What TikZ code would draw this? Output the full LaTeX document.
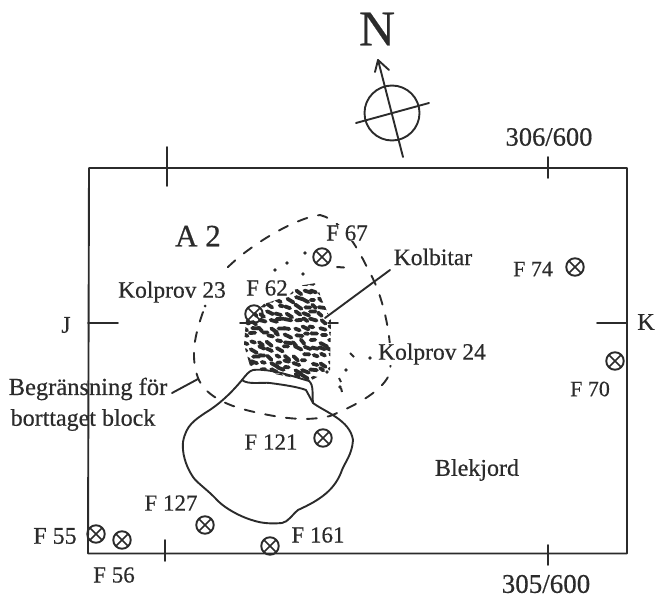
\documentclass[tikz,border=0pt]{standalone}
\usepackage{fontspec}
\setmainfont[RawFeature={embolden=0.5}]{Liberation Serif}
\definecolor{ink}{gray}{0.17}
\newcommand{\fsz}[1]{\fontsize{#1}{#1}\selectfont}
\tikzset{
  lab/.style={text=ink,font=\fsz{23},inner sep=0pt,anchor=center},
  line/.style={draw=ink,line width=1.9pt,line cap=round,line join=round},
  bound/.style={draw=ink,line width=1.9pt,dash pattern=on 10pt off 11pt,line cap=round},
  hatchmark/.style={draw=ink,line width=3.8pt,line cap=round},
  sampx/.style={circle,draw=ink,line width=1.9pt,minimum size=17.5pt,inner sep=0pt,
    path picture={\draw[ink,line width=1.6pt]
      (path picture bounding box.north west)--(path picture bounding box.south east)
      (path picture bounding box.north east)--(path picture bounding box.south west);}}
}
\begin{document}
\begin{tikzpicture}[x=1pt,y=-1pt]
\useasboundingbox (0,0) rectangle (660,599);
% frame
\draw[line] (89,168) -- (627,168) -- (627,553.5) -- (88,553.5) -- cycle;
\draw[line] (167,147) -- (167,186);
\draw[line] (548,157) -- (548,178);
\draw[line] (165,540) -- (165,561);
\draw[line] (548,545) -- (548,565);
\draw[line] (88,323) -- (118,323);
\draw[line] (597,323) -- (627,323);
\draw[line] (240,323) -- (255,323);
\draw[line] (328,323) -- (338,323);
% north sign
\node[lab,font=\fsz{50}] (north) at (377,29) {N};
\coordinate (ntip) at (378,60);
\coordinate (ntail) at (403,157);
\coordinate (nw) at (356,123);
\coordinate (ne) at (429,103);
\draw[line] (392,113) circle (27.5);
\draw[line] (ntip) -- (ntail);
\draw[line] (nw) -- (ne);
\draw[line] (375,72) -- (ntip) -- (389,70);
% dashed limit
\draw[bound] (203,312) .. controls (195,335) and (190,355) .. (198,378)
  .. controls (205,395) and (225,405) .. (250,411)
  .. controls (280,418) and (305,422) .. (330,416)
  .. controls (355,406) and (385,390) .. (390,372)
  .. controls (393,345) and (385,300) .. (370,273)
  .. controls (362,258) and (347,222) .. (320,215)
  .. controls (295,218) and (250,245) .. (227,268);
\fill[ink] (205,306) circle (1.5);
% hatched area
\begin{scope}
\pgfmathsetseed{71}
\clip (246,320) -- (264,304) -- (288,296) -- (298,286) -- (316,283) -- (322,300) -- (331,320) -- (330,370) -- (310,381) -- (270,373) -- (250,366) -- (244,345) -- cycle;
\foreach \ix in {0,...,10}{
  \foreach \iy in {0,...,15}{
    \pgfmathsetmacro{\px}{241+\ix*8.5+rnd*5}
    \pgfmathsetmacro{\py}{276+\iy*7+rnd*4}
    \pgfmathsetmacro{\dx}{3+rnd*4}
    \pgfmathsetmacro{\dy}{rnd*5-0.5}
    \draw[hatchmark] (\px,\py) -- ++(\dx,\dy);
  }
}
\end{scope}
% sparse marks
\foreach \x/\y in {275/270,287/263,305/253,303/274,327/372,346/370,340/387,370/358}
  \fill[ink] (\x,\y) circle (1.8);
\draw[ink,line width=2pt,line cap=round] (337,267) -- (344,267.5);
\draw[ink,line width=2pt] (339,378) -- (341,382);
\draw[ink,line width=2pt] (341,388) -- (342,392);
\draw[ink,line width=2pt] (350,353) -- (354,357);
% block
\draw[line] (242,380) .. controls (246,375) and (249,371) .. (253,370)
  .. controls (270,368) and (295,377) .. (309,381)
  .. controls (314,385) and (312,395) .. (313,403)
  .. controls (325,412) and (350,420) .. (353,440)
  .. controls (352,455) and (345,462) .. (342,470)
  .. controls (335,490) and (320,500) .. (298,510)
  .. controls (292,515) and (288,522) .. (282,523)
  .. controls (270,524) and (262,523) .. (255,521)
  .. controls (240,517) and (225,508) .. (218,501)
  .. controls (208,490) and (197,483) .. (193,477)
  .. controls (185,465) and (182,452) .. (183,442)
  .. controls (186,425) and (195,420) .. (205,413)
  .. controls (220,404) and (232,392) .. (242,380);
\draw[line] (242,380) .. controls (248,385) and (262,382) .. (270,383)
  .. controls (285,385) and (298,387) .. (306,390) -- (313,403);
% samples
\node[sampx] (s67) at (322,257) {};
\node[sampx] (s62) at (254,314) {};
\node[sampx] (s74) at (575,267) {};
\node[sampx] (s70) at (615,361) {};
\node[sampx] (s121) at (323,438) {};
\node[sampx] (s127) at (205,525) {};
\node[sampx] (s55) at (96,534) {};
\node[sampx] (s56) at (122,540) {};
\node[sampx] (s161) at (270,546) {};
% labels
\node[lab,font=\fsz{31}] (a2) at (198,236) {A 2};
\node[lab,fill=white] (f67) at (347,233) {F 67};
\node[lab,font=\fsz{23.5}] (kol) at (433,257) {Kolbitar};
\node[lab,font=\fsz{22}] (f74) at (533,269) {F 74};
\node[lab,font=\fsz{23.5}] (k23) at (172,292) {Kolprov 23};
\node[lab] (f62) at (267,288) {F 62};
\node[lab,font=\fsz{24}] (j) at (66,325) {J};
\node[lab,font=\fsz{24}] (k) at (646,322) {K};
\node[lab,font=\fsz{23.5},fill=white] (k24) at (432,354) {Kolprov 24};
\node[lab,font=\fsz{22}] (f70) at (590,389) {F 70};
\node[lab,font=\fsz{24.5}] (beg) at (88,389) {Begränsning för};
\node[lab,font=\fsz{24}] (bor) at (83,420) {borttaget block};
\node[lab] (f121) at (271,442) {F 121};
\node[lab,font=\fsz{24}] (blek) at (477,470) {Blekjord};
\node[lab] (f127) at (171,503) {F 127};
\node[lab] (f161) at (318,535) {F 161};
\node[lab,font=\fsz{24}] (f55) at (55,536) {F 55};
\node[lab] (f56) at (114,575) {F 56};
\node[lab,font=\fsz{26.5}] (n306) at (549,137) {306/600};
\node[lab,font=\fsz{27}] (n305) at (546,584) {305/600};
% leaders
\coordinate (kolstart) at (390,270);
\coordinate (kolend) at (325,318);
\coordinate (begstart) at (172,393);
\coordinate (begend) at (198,379);
\draw[line] (kolstart) -- (kolend);
\draw[line] (begstart) -- (begend);
\end{tikzpicture}
\end{document}
